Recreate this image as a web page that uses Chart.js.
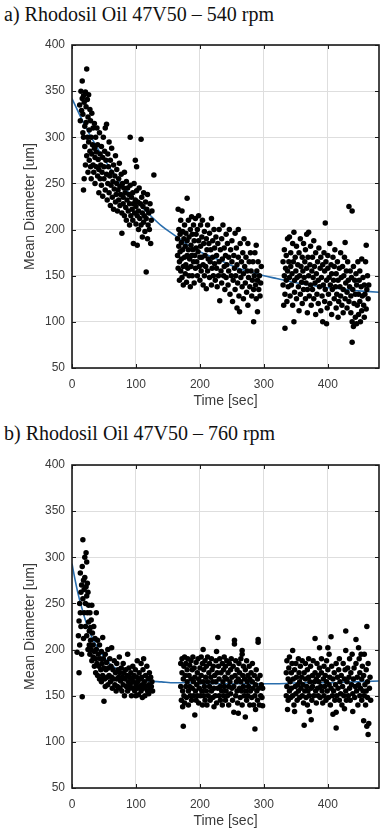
<!DOCTYPE html>
<html>
<head>
<meta charset="utf-8">
<script src="https://cdn.jsdelivr.net/npm/chart.js@4.4.1/dist/chart.umd.min.js"></script>
<style>
body { margin: 0; width: 387px; height: 830px; overflow: hidden; background: #fff; position: relative; }
.title { position: absolute; left: 4px; font-family: "Liberation Serif", "Times New Roman", serif; font-size: 20px; line-height: 1; color: #111; white-space: nowrap; }
canvas { position: absolute; left: 0; }
</style>
</head>
<body>
<div class="title" style="top:4px">a) Rhodosil Oil 47V50 – 540 rpm</div>
<canvas id="chart-a" width="387" height="385" style="top:30px"></canvas>
<div class="title" style="top:423px">b) Rhodosil Oil 47V50 – 760 rpm</div>
<canvas id="chart-b" width="387" height="385" style="top:450px"></canvas>
<script>
// axis ranges
const xRange = [0, 480];
const yRange = [50, 400];
const xLabel = 'Time [sec]';
const yLabel = 'Mean Diameter [um]';

// 540 rpm - measured points [time, diameter], three recording windows
const a1 = [[12,335],[13,318],[14,350],[15,329],[16,361],[16,342],[17,305],[17,325],[18,300],[18,243],[18,345],[19,338],[19,255],[20,312],[20,290],[21,349],[21,270],[22,333],[22,316],[23,374],[23,280],[24,341],[24,300],[25,322],[25,262],[26,346],[26,295],[27,308],[27,275],[28,330],[28,285],[29,318],[29,268],[30,300],[30,255],[31,326],[31,282],[32,292],[33,310],[33,270],[34,262],[35,315],[35,288],[36,278],[36,250],[37,300],[38,268],[38,284],[39,310],[40,258],[40,292],[41,276],[42,265],[42,240],[43,305],[44,282],[44,255],[45,270],[46,290],[46,248],[47,262],[48,278],[48,236],[49,300],[50,255],[50,268],[51,285],[52,243],[52,310],[53,275],[54,260],[54,314],[55,232],[56,250],[56,282],[57,268],[58,240],[58,295],[59,258],[60,226],[60,275],[61,248],[62,262],[62,288],[63,235],[64,252],[65,270],[65,222],[66,244],[67,258],[68,280],[68,230],[69,238],[70,265],[70,250],[71,220],[72,243],[73,255],[73,232],[74,272],[75,226],[75,247],[76,238],[77,260],[78,196],[78,218],[79,250],[80,235],[80,228],[81,245],[82,215],[82,262],[83,240],[84,224],[85,252],[85,210],[86,232],[87,245],[88,220],[89,238],[90,228],[90,205],[91,300],[91,248],[92,215],[93,235],[94,222],[95,240],[95,210],[96,185],[96,228],[97,250],[98,218],[99,275],[99,232],[100,206],[100,225],[101,268],[101,242],[102,183],[102,215],[103,230],[104,220],[104,200],[105,245],[106,212],[107,228],[108,298],[108,205],[109,235],[110,218],[110,192],[111,225],[112,240],[112,208],[113,215],[114,198],[115,230],[116,154],[116,212],[117,222],[118,190],[118,238],[119,205],[120,218],[121,200],[122,228],[123,185],[124,210],[125,220],[128,259]];
const a2 = [[165,190],[165,172],[166,222],[166,158],[167,200],[167,182],[168,165],[168,145],[169,195],[169,176],[170,155],[170,210],[171,186],[171,168],[172,220],[172,148],[173,198],[173,178],[174,160],[174,140],[175,190],[176,205],[176,170],[177,152],[177,182],[178,196],[178,162],[179,143],[180,234],[180,188],[180,172],[181,158],[182,210],[182,178],[183,192],[183,150],[184,168],[185,200],[185,138],[186,183],[186,160],[187,214],[187,172],[188,195],[188,150],[189,178],[190,165],[190,205],[191,188],[191,142],[192,172],[193,212],[193,158],[194,195],[194,180],[195,165],[196,150],[196,200],[197,176],[198,215],[198,188],[199,160],[200,170],[200,145],[201,205],[201,182],[202,155],[203,192],[203,170],[204,210],[205,162],[205,140],[206,185],[207,198],[207,150],[208,172],[209,160],[210,190],[210,136],[211,178],[212,205],[212,155],[213,168],[214,185],[215,148],[215,196],[216,165],[217,178],[218,212],[218,140],[219,158],[220,188],[220,170],[221,150],[222,200],[223,163],[223,180],[224,145],[225,192],[226,158],[226,172],[227,138],[228,185],[229,150],[230,200],[230,165],[231,123],[232,178],[233,155],[234,190],[234,142],[235,168],[236,205],[237,150],[238,180],[238,160],[239,135],[240,172],[241,195],[241,148],[242,162],[243,185],[244,140],[245,170],[245,155],[246,200],[247,130],[248,178],[249,150],[250,165],[250,188],[251,122],[252,145],[253,172],[254,158],[255,196],[255,135],[256,150],[257,180],[258,162],[258,115],[259,142],[260,200],[260,170],[261,128],[262,111],[262,155],[263,185],[264,148],[265,165],[266,138],[267,175],[268,152],[268,125],[269,190],[270,160],[271,142],[272,170],[273,132],[274,155],[275,185],[275,118],[276,148],[277,165],[278,138],[279,175],[280,155],[281,128],[282,145],[283,165],[284,100],[284,135],[285,150],[286,175],[287,140],[288,183],[288,125],[289,155],[290,111],[290,145],[291,165],[292,135],[293,150],[294,128],[295,142],[296,160]];
const a3 = [[330,165],[330,140],[331,118],[332,178],[332,150],[333,93],[333,130],[334,158],[335,145],[335,172],[336,122],[337,190],[337,155],[338,138],[339,165],[340,148],[340,192],[341,128],[342,160],[342,175],[343,140],[344,152],[345,118],[345,185],[346,165],[347,197],[347,100],[348,145],[348,132],[349,170],[350,155],[351,125],[351,182],[352,148],[353,162],[354,138],[355,175],[355,112],[356,150],[357,190],[357,130],[358,160],[359,143],[360,170],[360,120],[361,155],[362,185],[362,135],[363,148],[364,165],[365,125],[365,178],[366,142],[367,195],[367,158],[368,110],[368,135],[369,170],[370,197],[370,150],[371,128],[372,162],[373,140],[373,182],[374,118],[375,155],[376,170],[376,135],[377,148],[378,188],[378,125],[379,160],[380,142],[381,175],[381,108],[382,152],[383,130],[384,165],[385,145],[385,120],[386,180],[387,138],[388,158],[389,112],[389,170],[390,148],[391,128],[392,162],[392,100],[393,140],[394,175],[395,155],[395,122],[396,207],[396,135],[397,165],[398,145],[398,98],[399,115],[400,158],[400,172],[401,130],[402,148],[403,185],[403,120],[404,140],[405,162],[406,108],[406,152],[407,135],[408,170],[409,145],[410,125],[410,160],[411,178],[412,138],[413,152],[413,115],[414,130],[415,165],[416,145],[416,105],[417,122],[418,158],[419,138],[420,175],[420,128],[421,148],[422,118],[423,160],[424,135],[424,110],[425,150],[426,170],[427,186],[427,125],[428,142],[429,155],[430,115],[430,132],[431,165],[432,145],[433,225],[433,122],[434,138],[435,155],[436,110],[436,128],[437,148],[438,220],[438,78],[438,100],[439,135],[440,95],[440,160],[441,120],[442,145],[443,105],[443,130],[444,152],[445,98],[445,140],[446,118],[447,165],[448,130],[448,108],[449,145],[450,155],[450,122],[451,100],[452,138],[453,168],[453,112],[454,128],[455,148],[456,118],[457,105],[457,140],[458,130],[459,165],[460,114],[460,183],[461,135],[462,150],[463,125],[464,140]];

// 760 rpm - measured points [time, diameter]
const b1 = [[8,197],[10,215],[11,175],[11,231],[12,250],[12,205],[13,240],[13,283],[14,225],[14,262],[15,195],[15,270],[16,149],[16,290],[17,319],[17,255],[18,275],[18,212],[19,265],[19,240],[20,300],[20,278],[21,250],[21,225],[22,305],[22,268],[23,295],[23,258],[23,215],[24,272],[24,240],[25,262],[25,200],[26,248],[26,230],[27,220],[27,205],[28,240],[28,195],[29,224],[29,210],[30,232],[30,200],[31,248],[31,188],[32,218],[33,205],[33,192],[34,225],[35,198],[35,182],[36,212],[37,190],[37,175],[38,240],[38,200],[39,185],[40,210],[40,172],[41,195],[42,182],[43,205],[43,168],[44,190],[45,178],[46,198],[46,165],[47,185],[48,213],[48,172],[49,190],[50,144],[50,180],[51,168],[52,195],[52,160],[53,178],[54,186],[55,170],[56,200],[56,162],[57,180],[58,172],[59,190],[60,165],[61,182],[62,202],[62,170],[63,158],[64,178],[65,168],[66,188],[67,162],[68,175],[69,155],[70,185],[70,168],[71,160],[72,178],[73,170],[74,192],[75,158],[75,175],[76,166],[77,180],[78,155],[79,170],[80,185],[80,162],[81,175],[82,150],[83,168],[84,178],[85,160],[86,172],[87,195],[87,155],[88,165],[89,180],[90,158],[90,170],[91,162],[92,175],[93,150],[94,168],[95,182],[95,158],[96,165],[97,172],[98,155],[99,178],[100,162],[100,150],[101,170],[102,188],[102,158],[103,165],[104,151],[105,175],[106,160],[107,168],[108,185],[108,155],[109,170],[110,148],[110,162],[111,178],[112,190],[112,158],[113,165],[114,150],[115,172],[116,160],[117,182],[118,155],[119,168],[120,162],[120,152],[121,175],[122,158],[123,170],[124,160],[125,165],[126,155]];
const b2 = [[170,185],[170,160],[171,145],[172,190],[172,175],[173,155],[173,138],[174,117],[174,168],[175,182],[175,150],[176,192],[176,142],[177,172],[178,160],[178,185],[179,148],[180,178],[180,165],[181,190],[182,155],[182,140],[183,172],[184,183],[184,160],[185,150],[186,188],[186,168],[187,145],[188,178],[188,158],[189,192],[190,165],[190,150],[191,180],[192,129],[192,170],[193,155],[194,186],[194,145],[195,162],[196,175],[196,150],[197,190],[198,168],[198,142],[199,158],[200,180],[200,165],[201,150],[202,192],[202,172],[203,155],[204,185],[204,140],[205,200],[205,165],[206,178],[206,150],[207,160],[208,188],[208,145],[209,170],[210,155],[210,182],[211,140],[212,165],[212,192],[213,150],[214,175],[215,160],[215,185],[216,145],[217,170],[218,155],[218,190],[219,178],[220,148],[220,165],[221,182],[222,138],[222,158],[223,172],[224,150],[225,188],[225,165],[226,198],[226,142],[227,175],[228,213],[228,158],[229,182],[230,150],[230,168],[231,190],[232,145],[232,160],[233,175],[234,155],[235,185],[235,140],[236,165],[237,178],[237,150],[238,192],[238,160],[239,170],[240,145],[240,182],[241,155],[242,168],[242,188],[243,150],[244,175],[245,160],[245,140],[246,185],[247,165],[248,152],[248,178],[249,190],[250,158],[250,170],[251,145],[252,182],[253,160],[253,132],[254,206],[254,210],[255,172],[256,150],[256,188],[257,165],[258,155],[258,178],[259,142],[260,131],[260,168],[261,185],[262,158],[262,175],[263,148],[264,190],[264,165],[265,155],[266,199],[266,195],[266,140],[267,172],[268,160],[268,182],[269,150],[270,168],[271,127],[271,178],[272,155],[273,188],[273,145],[274,165],[275,172],[275,150],[276,160],[277,182],[278,140],[278,168],[279,155],[280,175],[281,148],[282,165],[282,185],[283,158],[284,140],[285,172],[286,114],[286,150],[287,135],[287,162],[288,178],[289,155],[290,145],[290,168],[291,211],[291,208],[292,158],[293,140],[294,172],[295,150],[296,162],[297,148],[298,139],[298,158]];
const b3 = [[335,175],[335,150],[336,188],[336,160],[337,135],[338,168],[338,145],[339,180],[340,155],[340,192],[341,165],[342,148],[343,175],[343,158],[344,185],[345,199],[345,150],[346,168],[347,140],[348,133],[348,178],[349,160],[350,152],[350,185],[351,170],[352,145],[353,162],[354,190],[354,155],[355,175],[356,148],[356,165],[357,182],[358,158],[359,170],[360,150],[360,188],[361,162],[362,142],[363,118],[363,175],[364,155],[365,168],[365,185],[366,148],[367,160],[368,178],[368,140],[369,155],[370,170],[370,190],[371,133],[371,150],[372,165],[373,182],[374,124],[374,158],[375,145],[376,172],[376,160],[377,188],[378,150],[379,165],[380,212],[380,175],[381,155],[382,142],[382,168],[383,185],[384,158],[385,150],[385,172],[386,165],[387,202],[387,180],[388,148],[389,160],[390,175],[390,190],[391,155],[392,142],[393,168],[394,182],[394,150],[395,160],[396,172],[397,145],[398,165],[398,188],[399,155],[400,178],[400,202],[401,148],[402,195],[402,162],[403,170],[404,140],[405,214],[405,158],[406,182],[407,150],[408,168],[408,130],[409,155],[410,175],[411,145],[412,162],[413,132],[413,115],[413,185],[414,150],[415,170],[416,158],[417,178],[418,145],[418,190],[419,165],[420,152],[421,172],[422,140],[423,160],[424,185],[425,150],[426,136],[426,168],[427,178],[428,220],[428,199],[428,155],[429,145],[430,165],[431,180],[432,150],[433,170],[434,190],[434,158],[435,145],[436,175],[437,162],[438,195],[439,133],[439,152],[440,168],[441,180],[442,148],[443,160],[444,211],[444,185],[445,155],[446,170],[447,140],[448,202],[448,162],[449,190],[450,150],[450,175],[451,158],[452,195],[453,145],[453,168],[454,182],[455,155],[456,123],[456,172],[457,195],[457,150],[458,162],[459,140],[460,178],[460,155],[461,225],[461,117],[462,165],[462,148],[463,108],[463,185],[464,120],[465,158],[466,170],[467,145]];

// fitted curves
const fitTimesA = [0,20,40,60,80,100,120,140,160,180,200,220,240,260,280,300,320,340,360,380,400,420,440,460,480];
const fitA = [342,313,288,266,247,231,217,204,194,184,176,170,164,158,154,150,147,144,141,139,137,136,134,133,132];
const fitTimesB = [0,5,10,15,20,30,40,50,60,70,80,90,100,120,140,160,180,200,240,280,320,360,400,440,480];
const fitB = [293,275,259,246,234,215,202,192,184,179,175,172,169,166,165,164,164,163,163,163,163,164,164,165,166];

const tickColor = '#3a3a3a';
const sansFont = '"Liberation Sans", Arial, sans-serif';

// cadre noir + petites graduations vers l'intérieur (style MATLAB)
const framePlugin = {
    id: 'frame',
    afterDraw(chart) {
        const { ctx, chartArea: a, scales } = chart;
        ctx.save();
        ctx.strokeStyle = '#1a1a1a';
        ctx.lineWidth = 1;
        ctx.beginPath();
        scales.x.ticks.forEach(t => {
            const px = Math.round(scales.x.getPixelForValue(t.value)) + 0.5;
            ctx.moveTo(px, a.bottom); ctx.lineTo(px, a.bottom - 4);
            ctx.moveTo(px, a.top); ctx.lineTo(px, a.top + 4);
        });
        scales.y.ticks.forEach(t => {
            const py = Math.round(scales.y.getPixelForValue(t.value)) + 0.5;
            ctx.moveTo(a.left, py); ctx.lineTo(a.left + 4, py);
            ctx.moveTo(a.right, py); ctx.lineTo(a.right - 4, py);
        });
        ctx.stroke();
        ctx.lineWidth = 1.6;
        ctx.strokeRect(a.left, a.top, a.right - a.left, a.bottom - a.top);
        ctx.restore();
    }
};

function toPoints(list) {
    return list.map(p => ({ x: p[0], y: p[1] }));
}

function makeChart(id, groups, fitTimes, fitValues) {
    const datasets = groups.map(g => ({
        data: toPoints(g),
        pointRadius: 2.75,
        pointBackgroundColor: '#000',
        pointBorderWidth: 0,
        borderWidth: 0
    }));
    datasets.push({
        data: fitTimes.map((t, i) => ({ x: t, y: fitValues[i] })),
        showLine: true,
        borderColor: '#2a6ead',
        borderWidth: 1.6,
        pointRadius: 0,
        cubicInterpolationMode: 'monotone'
    });

    return new Chart(document.getElementById(id), {
        type: 'scatter',
        data: { datasets },
        plugins: [framePlugin],
        options: {
            responsive: false,
            animation: false,
            events: [],
            devicePixelRatio: 1,
            layout: { padding: { left: 0, right: 8, top: 15, bottom: 0 } },
            plugins: { legend: { display: false }, tooltip: { enabled: false } },
            scales: {
                x: {
                    type: 'linear',
                    min: xRange[0],
                    max: xRange[1],
                    afterFit: s => { s.height = 47; },
                    ticks: { stepSize: 100, includeBounds: false, padding: 9, color: tickColor, font: { family: sansFont, size: 12 }, maxRotation: 0 },
                    grid: { color: '#dedede', drawTicks: false },
                    border: { display: false },
                    title: { display: true, text: xLabel, color: tickColor, font: { family: sansFont, size: 14 }, padding: { top: 0, bottom: 5 } }
                },
                y: {
                    type: 'linear',
                    min: yRange[0],
                    max: yRange[1],
                    afterFit: s => { s.width = 72; },
                    ticks: { stepSize: 50, padding: 7, color: tickColor, font: { family: sansFont, size: 12 } },
                    grid: { color: '#dedede', drawTicks: false },
                    border: { display: false },
                    title: { display: true, text: yLabel, color: tickColor, font: { family: sansFont, size: 14 }, padding: { top: 22, bottom: 0 } }
                }
            }
        }
    });
}

makeChart('chart-a', [a1, a2, a3], fitTimesA, fitA);
makeChart('chart-b', [b1, b2, b3], fitTimesB, fitB);
</script>
</body>
</html>
